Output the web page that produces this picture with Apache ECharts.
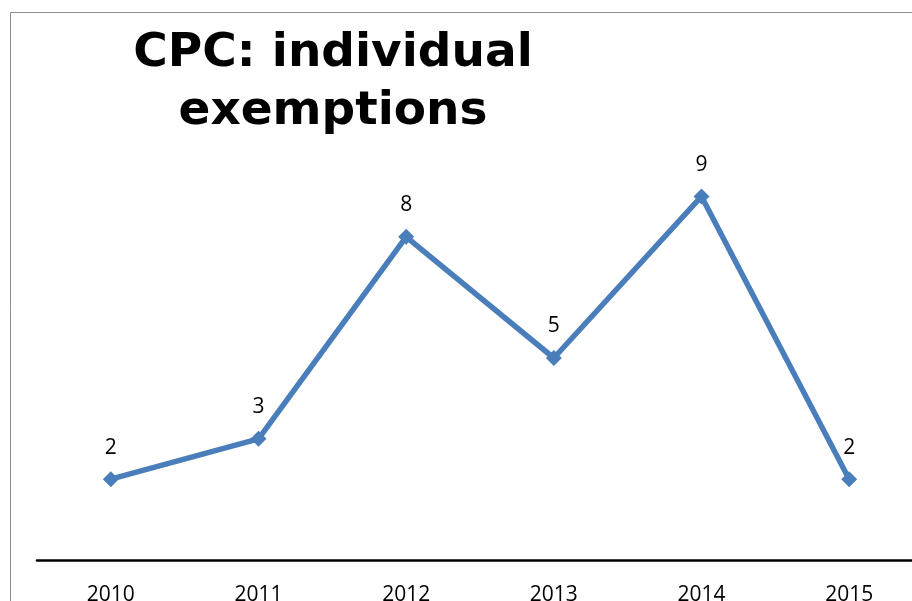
<!DOCTYPE html>
<html><head><meta charset="utf-8">
<script src="https://cdn.jsdelivr.net/npm/echarts@6/dist/echarts.min.js"></script>
<style>html,body{margin:0;padding:0;background:#fff}#c{width:912px;height:601px}</style>
</head><body><div id="c"></div>
<script>
const years = ['2010','2011','2012','2013','2014','2015'];
const exemptions = [2, 3, 8, 5, 9, 2];
const titleText = 'CPC: individual\nexemptions';

const chart = echarts.init(document.getElementById('c'), null, {renderer:'canvas'});
chart.setOption({
  animation: false,
  backgroundColor: '#fff',
  graphic: [{
    type: 'rect', shape: {x: 10.5, y: 12.5, width: 1000, height: 700},
    style: {fill: 'none', stroke: '#8c8c8c', lineWidth: 1}
  }],
  title: {
    text: titleText, left: 328, top: 20, textAlign: 'center',
    textStyle: {fontFamily: 'DejaVu Sans', fontWeight: 'bold', fontSize: 47, lineHeight: 58, color: '#000'}
  },
  grid: {left: 37, width: 886, top: 156, bottom: 41, containLabel: false, outerBoundsMode: 'none'},
  xAxis: {
    type: 'category', data: years, boundaryGap: true,
    axisLine: {lineStyle: {color: '#000', width: 2.5}},
    axisTick: {show: false},
    axisLabel: {fontFamily: 'Open Sans', fontSize: 21, color: '#000', margin: 25}
  },
  yAxis: {type: 'value', min: 0, max: 10, interval: 1, show: false, splitLine: {show: false}},
  series: [{
    type: 'line', data: exemptions,
    lineStyle: {color: '#4a7ebb', width: 5.5},
    itemStyle: {color: '#4a7ebb'},
    symbol: 'diamond', symbolSize: 16, showAllSymbol: true,
    label: {show: true, position: 'top', distance: 13, fontFamily: 'Open Sans', fontSize: 21, color: '#000'}
  }]
});
</script></body></html>
